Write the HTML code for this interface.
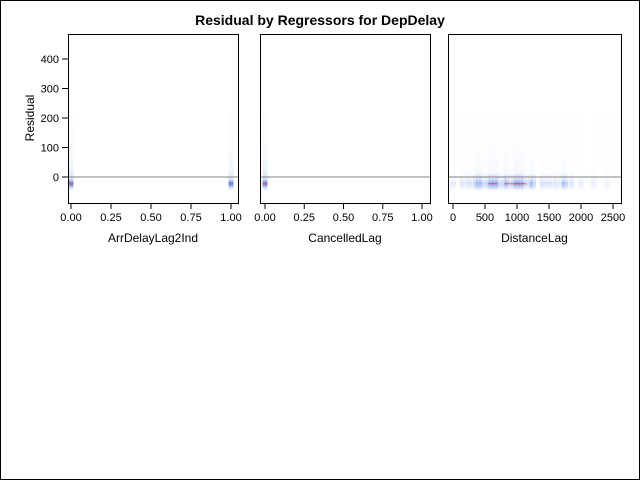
<!DOCTYPE html>
<html><head><meta charset="utf-8">
<style>
html,body{margin:0;padding:0;background:#fff}
#frame{position:absolute;left:0;top:0;width:638px;height:478px;border:1px solid #000;background:#fff}
svg{position:absolute;left:0;top:0}
text{font-family:"Liberation Sans",Arial,sans-serif;fill:#000}
</style></head>
<body>
<div id="frame"></div>
<svg id="chart" width="640" height="480">
<text x="320" y="25" text-anchor="middle" font-size="14" font-weight="bold">Residual by Regressors for DepDelay</text>
<text transform="translate(34,118) rotate(-90)" text-anchor="middle" font-size="12">Residual</text>
</svg>
<script>
// y-axis
const yTicks = [0, 100, 200, 300, 400];
// residual bins (strip density)
const residBins = [-45,-40,-35,-30,-25,-20,-15,-10,-5,0,10,20,40,60,80,100,130,160,190];
const stripDensity = [0.15,0.35,0.6,0.8,1.0,0.85,0.6,0.4,0.3,0.25,0.18,0.14,0.1,0.08,0.06,0.05,0.04,0.03,0.02];
// panel 1
const p1Ticks = [0,0.25,0.5,0.75,1];
const p1Labels = ["0.00","0.25","0.50","0.75","1.00"];
const p1Cats = [0,1];
const p1Weight = [1,0.9];
// panel 2
const p2Cats = [0];
const p2Weight = [1];
// panel 3
const p3Ticks = [0,500,1000,1500,2000,2500];
const p3Labels = ["0","500","1000","1500","2000","2500"];
const distBins = [0,150,250,350,400,450,550,600,650,700,800,850,950,1000,1050,1100,1200,1250,1400,1500,1600,1700,1750,1850,2000,2200,2400];
const distWeight = [0.35,0.45,0.55,0.7,0.8,0.75,0.85,0.9,1.0,0.8,0.75,0.9,0.95,1.0,0.95,0.9,0.75,0.7,0.55,0.5,0.45,0.5,0.8,0.45,0.3,0.3,0.25];

const svg = document.getElementById('chart');
const NS = 'http://www.w3.org/2000/svg';
const yTop = 34, yBot = 203;
function yScale(v){ return 177 - v * 0.295; }
const panels = [
  {x0:68,x1:238,d0:0,d1:1,px0:71,px1:231,ticks:p1Ticks,labels:p1Labels,title:'ArrDelayLag2Ind',name:'arrdelay'},
  {x0:260,x1:430,d0:0,d1:1,px0:265,px1:422,ticks:p1Ticks,labels:p1Labels,title:'CancelledLag',name:'cancelled'},
  {x0:448,x1:621,d0:0,d1:2500,px0:453,px1:613,ticks:p3Ticks,labels:p3Labels,title:'DistanceLag',name:'distance'}
];
function xs(p,v){ return p.px0 + (v-p.d0)/(p.d1-p.d0)*(p.px1-p.px0); }
function mk(tag, attrs){ const e=document.createElementNS(NS,tag); for(const k in attrs) e.setAttribute(k,attrs[k]); svg.appendChild(e); return e; }
function color(d){
  if(d>0.9) return ['#d0506a',0.9];
  if(d>0.7) return ['#5a78e0',0.85];
  return ['#4a7ae8',Math.max(0.02,d*0.7)];
}
function strip(p, cx, w, scale, pname){
  for(let i=0;i<residBins.length;i++){
    const r0 = residBins[i], r1 = i<residBins.length-1 ? residBins[i+1] : residBins[i]+20;
    const d = stripDensity[i]*scale;
    const c = color(d);
    const rc = mk('rect',{x:cx-w/2,y:yScale(r1),width:w,height:yScale(r0)-yScale(r1),fill:c[0],'fill-opacity':c[1]});
    
    
  }
}
panels.forEach((p,pi)=>{
  if(pi===0) p1Cats.forEach((c,i)=>strip(p,xs(p,c),5,p1Weight[i],'arrdelay'));
  if(pi===1) p2Cats.forEach((c,i)=>strip(p,xs(p,c),5,p2Weight[i],'cancelled'));
  if(pi===2){
    distBins.forEach((dv,i)=>{
      const cx = xs(p,dv);
      for(let j=0;j<residBins.length;j++){
        const r0=residBins[j], r1=j<residBins.length-1?residBins[j+1]:residBins[j]+20;
        let d = stripDensity[j]*distWeight[i]*0.75;
        let op;
        if(j===4 && distWeight[i]>=0.9){ d=0.95; }
        const c=color(d);
        op = d>0.9 ? 0.75 : (j>9 ? c[1]*0.35 : c[1]*0.8);
        const rc = mk('rect',{x:cx-3,y:yScale(r1),width:6,height:yScale(r0)-yScale(r1),fill:c[0],'fill-opacity':op});
        
        
      }
    });
  }
  const rl = mk('line',{x1:p.x0,x2:p.x1,y1:yScale(0),y2:yScale(0),stroke:'#808080','stroke-width':1});
  
  
  const fr = mk('rect',{x:p.x0+0.5,y:yTop+0.5,width:p.x1-p.x0,height:yBot-yTop,fill:'none',stroke:'#000'});
  
  
  p.ticks.forEach((t,i)=>{
    const x=xs(p,t);
    const tl = mk('line',{x1:x,x2:x,y1:yBot+1,y2:yBot+6,stroke:'#000'});
    
    
    const tx = mk('text',{x:x,y:yBot+18,'text-anchor':'middle','font-size':'11'});
    tx.textContent = p.labels[i];
    
    
  });
  const at = mk('text',{x:(p.x0+p.x1)/2,y:242,'text-anchor':'middle','font-size':'12'});
  at.textContent = p.title;
  
  
});
yTicks.forEach(t=>{
  const y=yScale(t);
  const tl = mk('line',{x1:62,x2:68,y1:y,y2:y,stroke:'#000'});
  
  
  const tx = mk('text',{x:59,y:y+4,'text-anchor':'end','font-size':'11'});
  tx.textContent = String(t);
  
  
});
</script>
</body></html>
